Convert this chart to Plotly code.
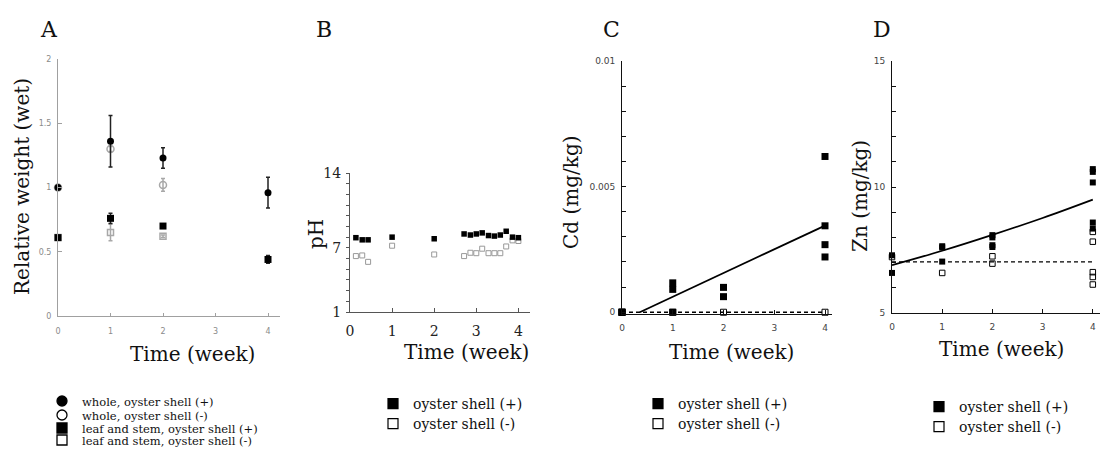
import plotly.graph_objects as go

W, H = 1102, 455
SERIF = "DejaVu Serif"
SANS = "DejaVu Sans"

# ---------------- data ----------------
# Panel A: relative weight (wet)
A_t = [0, 1, 2, 4]
A_whole_plus = [1.0, 1.36, 1.23, 0.96]
A_whole_plus_err = [0, 0.20, 0.08, 0.12]
A_leaf_plus = [0.61, 0.76, 0.70, 0.44]
A_leaf_plus_err = [0, 0.04, 0.0, 0.03]
A_minus_t = [0, 1, 2]
A_whole_minus = [1.0, 1.30, 1.02]
A_whole_minus_err = [0, 0.02, 0.05]
A_leaf_minus = [0.61, 0.65, 0.62]
A_leaf_minus_err = [0, 0.065, 0.01]

# Panel B: pH
B_t = [0.14, 0.29, 0.43, 1, 2, 2.71, 2.86, 3, 3.14, 3.29, 3.43, 3.57, 3.71, 3.86, 4]
B_plus = [7.95, 7.75, 7.75, 8.0, 7.85, 8.3, 8.2, 8.3, 8.4, 8.15, 8.1, 8.2, 8.55, 8.0, 7.95]
B_minus = [6.23, 6.29, 5.69, 7.2, 6.38, 6.23, 6.54, 6.5, 6.92, 6.5, 6.5, 6.5, 7.13, 7.7, 7.64]

# Panel C: Cd (mg/kg)
C_plus_t = [0, 0, 0, 1, 1, 1, 2, 2, 4, 4, 4, 4]
C_plus = [0, 0, 0, 0.00117, 0.00091, 0, 0.00099, 0.00062, 0.0062, 0.00344, 0.00269, 0.0022]
C_minus_t = [0, 1, 2, 4]
C_minus = [0, 0, 0, 0]
C_fit_plus_t = [0.35, 4]
C_fit_plus = [0, 0.00345]
C_fit_minus_t = [0, 4]
C_fit_minus = [0, 0]

# Panel D: Zn (mg/kg)
D_plus_t = [0, 0, 1, 1, 1, 2, 2, 2, 2, 4, 4, 4, 4, 4]
D_plus = [7.29, 6.59, 7.65, 7.6, 7.04, 8.09, 8.0, 7.69, 7.62, 10.71, 10.6, 10.18, 8.59, 8.35]
D_minus_t = [0, 1, 2, 2, 4, 4, 4, 4, 4]
D_minus = [7.22, 6.59, 7.25, 6.96, 8.22, 7.83, 6.62, 6.43, 6.13]
D_fit_plus_t = [0, 1, 2, 3, 4]
D_fit_plus = [6.9, 7.47, 8.1, 8.77, 9.5]
D_fit_minus_t = [0, 4]
D_fit_minus = [7.03, 7.03]

# Legend labels
A_legend_names = ["whole, oyster shell (+)", "whole, oyster shell (-)",
                  "leaf and stem, oyster shell (+)", "leaf and stem, oyster shell (-)"]
BCD_legend_names = ["oyster shell (+)", "oyster shell (-)"]

fig = go.Figure()


def X(p):
    return p / W


def Y(p):
    return 1 - p / H


GRAY = "#a8a8a8"


def err(v, c):
    return dict(type="data", array=v, visible=True, color=c, thickness=1.5, width=2)


# ---- Panel A ----
fig.add_trace(go.Scatter(x=A_minus_t, y=A_whole_minus, mode="markers", xaxis="x", yaxis="y",
                         marker=dict(symbol="circle-open", size=7, color=GRAY, line=dict(width=1.5, color=GRAY)),
                         error_y=err(A_whole_minus_err, GRAY), showlegend=False, cliponaxis=False))
fig.add_trace(go.Scatter(x=A_minus_t, y=A_leaf_minus, mode="markers", xaxis="x", yaxis="y",
                         marker=dict(symbol="square-open", size=6, color=GRAY, line=dict(width=1.5, color=GRAY)),
                         error_y=err(A_leaf_minus_err, GRAY), showlegend=False, cliponaxis=False))
fig.add_trace(go.Scatter(x=A_t, y=A_whole_plus, mode="markers", xaxis="x", yaxis="y",
                         marker=dict(symbol="circle", size=7, color="black"),
                         error_y=err(A_whole_plus_err, "#222"), showlegend=False, cliponaxis=False))
fig.add_trace(go.Scatter(x=A_t, y=A_leaf_plus, mode="markers", xaxis="x", yaxis="y",
                         marker=dict(symbol="square", size=7, color="black"),
                         error_y=err(A_leaf_plus_err, "#222"), showlegend=False, cliponaxis=False))

# ---- Panel B ----
fig.add_trace(go.Scatter(x=B_t, y=B_minus, mode="markers", xaxis="x2", yaxis="y2", showlegend=False,
                         marker=dict(symbol="square-open", size=5, color="#999", line=dict(width=1, color="#999"))))
fig.add_trace(go.Scatter(x=B_t, y=B_plus, mode="markers", xaxis="x2", yaxis="y2", showlegend=False,
                         marker=dict(symbol="square", size=5.5, color="black")))

# ---- Panel C ----
fig.add_trace(go.Scatter(x=C_fit_minus_t, y=C_fit_minus, mode="lines", xaxis="x3", yaxis="y3", showlegend=False,
                         line=dict(color="black", width=1.3, dash="4px,3px"), cliponaxis=False))
fig.add_trace(go.Scatter(x=C_fit_plus_t, y=C_fit_plus, mode="lines", xaxis="x3", yaxis="y3", showlegend=False,
                         line=dict(color="black", width=1.8)))
fig.add_trace(go.Scatter(x=C_minus_t, y=C_minus, mode="markers", xaxis="x3", yaxis="y3", showlegend=False,
                         marker=dict(symbol="square-open", size=6, color="black", line=dict(width=1, color="black")),
                         cliponaxis=False))
fig.add_trace(go.Scatter(x=C_plus_t, y=C_plus, mode="markers", xaxis="x3", yaxis="y3", showlegend=False,
                         marker=dict(symbol="square", size=7, color="black"), cliponaxis=False))

# ---- Panel D ----
fig.add_trace(go.Scatter(x=D_fit_minus_t, y=D_fit_minus, mode="lines", xaxis="x4", yaxis="y4", showlegend=False,
                         line=dict(color="black", width=1.2, dash="4px,3px")))
fig.add_trace(go.Scatter(x=D_fit_plus_t, y=D_fit_plus, mode="lines", xaxis="x4", yaxis="y4", showlegend=False,
                         line=dict(color="black", width=1.8, shape="spline")))
fig.add_trace(go.Scatter(x=D_minus_t, y=D_minus, mode="markers", xaxis="x4", yaxis="y4", showlegend=False,
                         marker=dict(symbol="square-open", size=5.5, color="black", line=dict(width=1, color="black")),
                         cliponaxis=False))
fig.add_trace(go.Scatter(x=D_plus_t, y=D_plus, mode="markers", xaxis="x4", yaxis="y4", showlegend=False,
                         marker=dict(symbol="square", size=6, color="black"), cliponaxis=False))

# ---------------- legends (one legend box per entry, for exact row placement) ----------------
legend_layout = {}


def leg_box(x, y, size):
    return dict(x=X(x), y=Y(y), xanchor="left", yanchor="middle", bgcolor="rgba(0,0,0,0)",
                font=dict(family=SERIF, size=size, color="#111"), itemclick=False, itemdoubleclick=False,
                borderwidth=0)


A_syms = ["circle", "circle-open", "square", "square-open"]
A_rows = [401, 415, 428, 440]
for k, (name, sym, row) in enumerate(zip(A_legend_names, A_syms, A_rows)):
    lid = "legend" if k == 0 else f"legend{k + 1}"
    fig.add_trace(go.Scatter(x=[None], y=[None], mode="markers", name=name, xaxis="x", yaxis="y",
                             marker=dict(symbol=sym, size=10, color="black", line=dict(width=1.3, color="black")),
                             legend=lid))
    legend_layout[lid] = leg_box(42, row, 11.5)

BCD = [("x2", "y2", 373, [404, 424]), ("x3", "y3", 638, [404, 424]), ("x4", "y4", 919, [407, 427])]
n = 5
for ax, ay, lx, rows in BCD:
    for name, sym, row in zip(BCD_legend_names, ["square", "square-open"], rows):
        lid = f"legend{n}"
        fig.add_trace(go.Scatter(x=[None], y=[None], mode="markers", name=name, xaxis=ax, yaxis=ay,
                                 marker=dict(symbol=sym, size=10, color="black",
                                             line=dict(width=1.2, color="black")), legend=lid))
        legend_layout[lid] = leg_box(lx, row, 14)
        n += 1


# ---------------- axes ----------------
def axis(domain, rng, tickvals, ticktext, linecolor, tickfont, ticks, ticklen, anchor, standoff):
    return dict(domain=domain, range=rng, tickmode="array", tickvals=tickvals, ticktext=ticktext,
                showline=True, linecolor=linecolor, linewidth=1, ticks=ticks, ticklen=ticklen,
                tickcolor=linecolor, tickwidth=1, tickfont=tickfont, showgrid=False, zeroline=False,
                anchor=anchor, fixedrange=True, ticklabelstandoff=standoff, automargin=False)


fA = dict(family=SANS, size=8, color="#8a8a8a")
fB = dict(family=SERIF, size=14, color="#222")
fC = dict(family=SANS, size=9, color="#444")

layout_axes = dict(
    xaxis=axis([X(58), X(280)], [0, 222 / 52.5], [0, 1, 2, 3, 4], ["0", "1", "2", "3", "4"],
               "#a0a0a0", fA, "inside", 3, "y", 7),
    yaxis=axis([Y(316), Y(59)], [0, 2], [0, 0.5, 1, 1.5, 2], ["0", "0.5", "1", "1.5", "2"],
               "#a0a0a0", fA, "inside", 4, "x", 4),
    xaxis2=axis([X(350), X(530)], [0, 180 / 42.1], [0, 1, 2, 3, 4], ["0", "1", "2", "3", "4"],
                "#555", fB, "inside", 4, "y2", 6),
    yaxis2=axis([Y(312), Y(173)], [1, 14], list(range(1, 15)),
                ["1" if v == 1 else "7" if v == 7 else "14" if v == 14 else "" for v in range(1, 15)],
                "#555", fB, "outside", 3, "x2", 2),
    xaxis3=axis([X(622), X(832)], [0, 210 / 50.75], [0, 1, 2, 3, 4], ["0", "1", "2", "3", "4"],
                "#111", fC, "inside", 4, "y3", 5),
    yaxis3=axis([Y(314), Y(61)], [-0.00007, 0.01], [i * 0.001 for i in range(11)],
                ["0" if i == 0 else "0.005" if i == 5 else "0.01" if i == 10 else "" for i in range(11)],
                "#111", fC, "inside", 4, "x3", 4),
    xaxis4=axis([X(892), X(1100)], [0, 208 / 50.2], [0, 1, 2, 3, 4], ["0", "1", "2", "3", "4"],
                "#111", fC, "inside", 4, "y4", 5),
    yaxis4=axis([Y(313), Y(61)], [5, 15], list(range(5, 16)),
                ["5" if v == 5 else "10" if v == 10 else "15" if v == 15 else "" for v in range(5, 16)],
                "#111", fC, "inside", 4, "x4", 4),
)


# ---------------- annotations ----------------
def ann(text, x, y, size, angle=0, xanchor="center"):
    return dict(text=text, x=X(x), y=Y(y), xref="paper", yref="paper", showarrow=False,
                font=dict(family=SERIF, size=size, color="#111"), textangle=angle,
                xanchor=xanchor, yanchor="middle")


annotations = [
    ann("A", 38, 30, 22, xanchor="left"),
    ann("B", 314, 30, 22, xanchor="left"),
    ann("C", 601, 30, 22, xanchor="left"),
    ann("D", 871, 30, 22, xanchor="left"),
    ann("Relative weight (wet)", 22, 187, 20, angle=-90),
    ann("pH", 316, 234, 20, angle=-90),
    ann("Cd (mg/kg)", 571, 192, 20, angle=-90),
    ann("Zn (mg/kg)", 860, 196, 20, angle=-90),
    ann("Time (week)", 192, 354, 20),
    ann("Time (week)", 466, 352, 20),
    ann("Time (week)", 731, 352, 20),
    ann("Time (week)", 1001, 349, 20),
]

fig.update_layout(
    width=W, height=H, margin=dict(l=0, r=0, t=0, b=0, autoexpand=False),
    paper_bgcolor="white", plot_bgcolor="white",
    annotations=annotations,
    **legend_layout,
    **layout_axes,
)

fig.write_html("out.html", config={"displayModeBar": False},
               post_script="document.body.style.margin='0px';document.body.style.overflow='hidden';")
